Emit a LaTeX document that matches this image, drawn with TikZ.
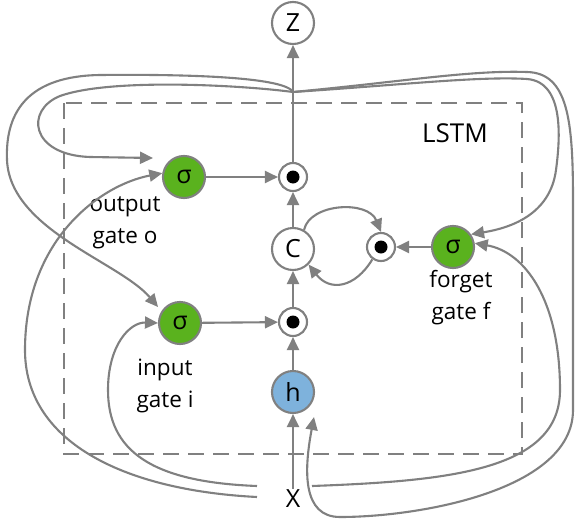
\documentclass[tikz,border=0pt]{standalone}
\usepackage{fontspec}
\setmainfont{Open Sans}
\usetikzlibrary{arrows.meta}
\definecolor{lc}{RGB}{128,128,128}
\definecolor{gfill}{RGB}{90,178,30}
\definecolor{bfill}{RGB}{126,178,220}
\begin{document}
\begin{tikzpicture}[x=1pt,y=-1pt,
  conn/.style={draw=lc, line width=2.1pt, -{Triangle[length=13pt,width=12pt]}},
  big/.style={circle, draw=lc, line width=2.1pt, fill=white, minimum size=42pt, inner sep=0pt, font=\fontsize{25}{28}\selectfont},
  gate/.style={big, fill=gfill},
  hid/.style={big, fill=bfill},
  dotn/.style={circle, draw=lc, line width=2.1pt, fill=white, minimum size=28pt, inner sep=0pt,
    path picture={\fill[black] (path picture bounding box.center) circle (6.5pt);}},
  lbl/.style={align=center, font=\fontsize{22.5}{32}\selectfont},
  txt/.style={inner sep=1pt, font=\fontsize{25}{28}\selectfont},
  box/.style={draw=lc, line width=2.1pt, dash pattern=on 16pt off 9pt},
]
\useasboundingbox[fill=white] (0,0) rectangle (576,525);
\draw[box] (64,103) rectangle (522,454);
\node[txt, font=\fontsize{26}{30}\selectfont] (lstm) at (455,133) {LSTM};

\node[big] (Z) at (293,23) {Z};
\node[dotn] (od) at (293,177) {};
\node[gate] (og) at (184,177) {σ};
\node[big] (C) at (293,249) {C};
\node[dotn] (fd) at (381,247) {};
\node[gate] (fg) at (453,247) {σ};
\node[gate] (ig) at (180,323) {σ};
\node[dotn] (id) at (293,322) {};
\node[hid] (h) at (293,392) {h};
\node[txt] (X) at (293,499) {X};

\node[lbl] (lo) at (125,223) {output\\gate o};
\node[lbl] (lf) at (461,298) {forget\\gate f};
\node[lbl] (li) at (165,386) {input\\gate i};

\coordinate (J) at (293,92);
\coordinate (ogfb) at (153,158);
\coordinate (igfb) at (158,307);
\coordinate (hfb) at (314,417);
\coordinate (xr) at (312,486);
\coordinate (xl1) at (257,486);
\coordinate (xl2) at (257,497);

\draw[conn] (X) -- (h);
\draw[conn] (h) -- (id);
\draw[conn] (id) -- (C);
\draw[conn] (C) -- (od);
\draw[conn] (od) -- (Z);
\draw[conn] (og) -- (od);
\draw[conn] (ig) -- (id);
\draw[conn] (fg) -- (fd);
\draw[conn] (C.60) .. controls (310,203) and (368,200) .. (fd.north);
\draw[conn] (fd.235) .. controls (355,288) and (330,292) .. (C.-45);

\draw[conn] (J) .. controls (240,85) and (110,78) .. (60,96) .. controls (25,110) and (30,155) .. (90,157) -- (ogfb);
\draw[conn] (J) .. controls (285,78) and (200,74) .. (100,75) .. controls (30,76) and (5,110) .. (7,160) .. controls (10,230) and (120,262) .. (igfb);
\draw[conn] (J) .. controls (400,85) and (480,76) .. (527,79) .. controls (565,82) and (560,140) .. (556,170) .. controls (550,215) and (510,228) .. (fg.35);
\draw[conn] (J) .. controls (400,82) and (470,70) .. (527,72) .. controls (568,73) and (573,120) .. (573,200) -- (573,410) .. controls (573,490) and (420,517) .. (340,517) .. controls (302,517) and (304,470) .. (hfb);

\draw[conn] (xr) .. controls (450,481) and (560,470) .. (560,390) .. controls (560,300) and (525,252) .. (fg.10);
\draw[conn] (xl1) .. controls (150,482) and (108,450) .. (108,390) .. controls (108,345) and (130,322) .. (ig.west);
\draw[conn] (xl2) .. controls (120,490) and (25,440) .. (25,350) .. controls (25,240) and (100,185) .. (og.170);
\end{tikzpicture}
\end{document}
